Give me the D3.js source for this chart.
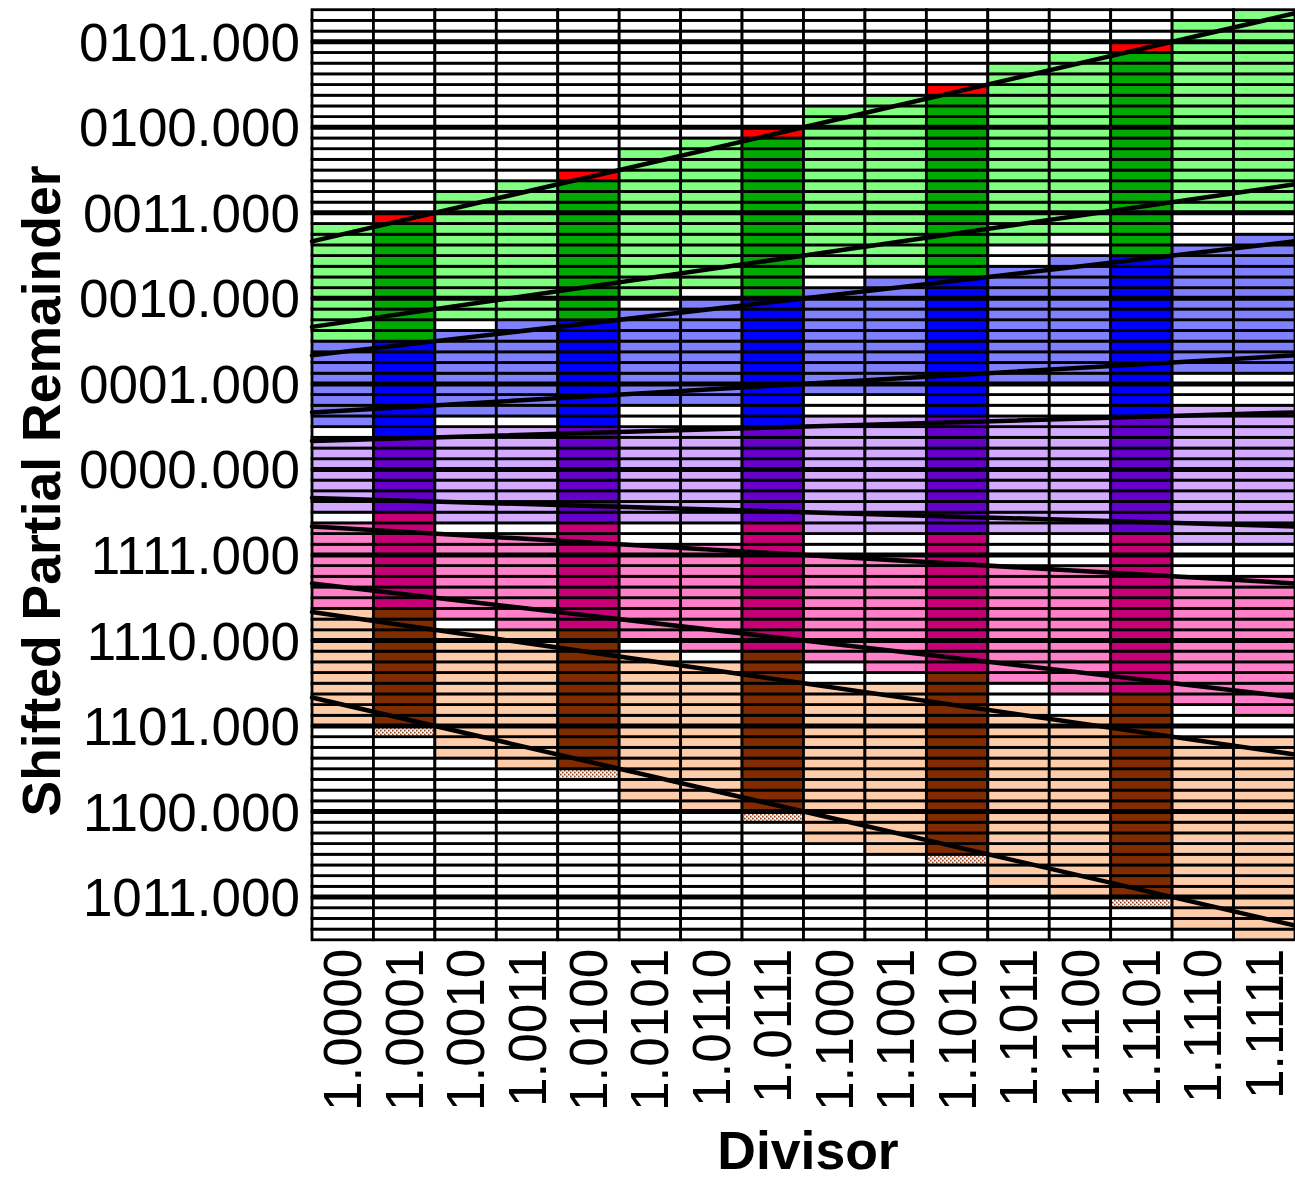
<!DOCTYPE html>
<html>
<head>
<meta charset="utf-8">
<script src="https://cdn.jsdelivr.net/npm/d3@7"></script>
<style>
  body { margin: 0; background: #fff; }
  svg { display: block; font-family: "Liberation Sans", Arial, Helvetica, sans-serif; }
</style>
</head>
<body>
<div class="canvas"></div>
<script>
// divisor columns (4 fraction bits)
const divisors = ['1.0000', '1.0001', '1.0010', '1.0011', '1.0100', '1.0101', '1.0110', '1.0111',
                  '1.1000', '1.1001', '1.1010', '1.1011', '1.1100', '1.1101', '1.1110', '1.1111'];
// columns shown in the dark shades
const darkColumns = ['1.0001', '1.0100', '1.0111', '1.1010', '1.1101'];

// for every column: lower edge of the highest and of the lowest cell of each quotient digit
const q2Top     = [2.75, 2.875, 3.125, 3.25, 3.375, 3.625, 3.75, 3.875, 4.125, 4.25, 4.375, 4.625, 4.75, 4.875, 5.125, 5.25];
const q2Bottom  = [1.5, 1.5, 1.75, 1.75, 1.75, 2.0, 2.125, 2.0, 2.375, 2.375, 2.25, 2.625, 2.75, 2.5, 3.0, 3.0];
const q1Top     = [1.375, 1.375, 1.5, 1.625, 1.625, 1.75, 1.875, 1.875, 2.0, 2.125, 2.125, 2.25, 2.375, 2.375, 2.5, 2.625];
const q1Bottom  = [0.5, 0.375, 0.625, 0.625, 0.5, 0.75, 0.75, 0.5, 0.875, 0.875, 0.625, 1.0, 1.0, 0.625, 1.125, 1.125];
const q0Top     = [0.25, 0.25, 0.375, 0.375, 0.375, 0.375, 0.375, 0.375, 0.5, 0.5, 0.5, 0.5, 0.5, 0.5, 0.625, 0.625];
const q0Bottom  = [-0.5, -0.5, -0.625, -0.625, -0.625, -0.625, -0.625, -0.625, -0.75, -0.75, -0.75, -0.75, -0.75, -0.75, -0.875, -0.875];
const qm1Top    = [-0.75, -0.625, -0.875, -0.875, -0.75, -1.0, -1.0, -0.75, -1.125, -1.125, -0.875, -1.25, -1.25, -0.875, -1.375, -1.375];
const qm1Bottom = [-1.625, -1.625, -1.75, -1.875, -1.875, -2.0, -2.125, -2.125, -2.25, -2.375, -2.375, -2.5, -2.625, -2.625, -2.75, -2.875];
const qm2Top    = [-1.75, -1.75, -2.0, -2.0, -2.0, -2.25, -2.375, -2.25, -2.625, -2.625, -2.5, -2.875, -3.0, -2.75, -3.25, -3.25];
const qm2Bottom = [-3.0, -3.125, -3.375, -3.5, -3.625, -3.875, -4.0, -4.125, -4.375, -4.5, -4.625, -4.875, -5.0, -5.125, -5.375, -5.5];

// partial remainder axis
const yTickValues = [-5, -4, -3, -2, -1, 0, 1, 2, 3, 4, 5];
const yTickLabels = ['1011.000', '1100.000', '1101.000', '1110.000', '1111.000', '0000.000',
                     '0001.000', '0010.000', '0011.000', '0100.000', '0101.000'];
const remainderRange = [-5.5, 5.375];
const rowStep = 0.125;

// boundary lines  p = k * d
const boundarySlopes = [8 / 3, 5 / 3, 4 / 3, 2 / 3, 1 / 3, -1 / 3, -2 / 3, -4 / 3, -5 / 3, -8 / 3];

const regions = [
    { top: q2Top, bottom: q2Bottom, light: '#80ff80', dark: '#00aa00' },
    { top: q1Top, bottom: q1Bottom, light: '#8080ff', dark: '#0000ff' },
    { top: q0Top, bottom: q0Bottom, light: '#d4aaff', dark: '#6600cc' },
    { top: qm1Top, bottom: qm1Bottom, light: '#ff80c8', dark: '#c80078' },
    { top: qm2Top, bottom: qm2Bottom, light: '#ffccaa', dark: '#802b00' }
];

const width = 1295, height = 1179;
const margin = { top: 9.7, left: 312, right: 0, bottom: 239.2 };
const graphWidth = width - margin.left - margin.right;
const graphHeight = height - margin.top - margin.bottom;
const fontSize = 53;

const svg = d3.select('.canvas')
    .append('svg')
    .attr('width', width)
    .attr('height', height);

const defs = svg.append('defs');
const dots = defs.append('pattern')
    .attr('id', 'dots')
    .attr('width', 4)
    .attr('height', 4)
    .attr('patternUnits', 'userSpaceOnUse');
dots.append('rect').attr('width', 4).attr('height', 4).attr('fill', '#ffffff');
dots.append('rect').attr('x', 0).attr('y', 0).attr('width', 1.6).attr('height', 1.6).attr('fill', '#802b00');
dots.append('rect').attr('x', 2).attr('y', 2).attr('width', 1.6).attr('height', 1.6).attr('fill', '#802b00');

const graph = svg.append('g')
    .attr('transform', `translate(${margin.left}, ${margin.top})`);

const x = d3.scaleBand()
    .domain(divisors)
    .range([0, graphWidth]);

const xd = d3.scaleLinear()
    .domain([1, 2])
    .range([0, graphWidth]);

const y = d3.scaleLinear()
    .domain(remainderRange)
    .range([graphHeight, 0]);

// one cell per divisor column and remainder row
const rows = d3.range(remainderRange[0], remainderRange[1], rowStep);
const cells = [];
divisors.forEach((div, i) => {
    const dark = darkColumns.includes(div);
    rows.forEach(p => {
        let fill = '#ffffff';
        regions.forEach((r, k) => {
            if (p <= r.top[i] && p >= r.bottom[i]) {
                fill = dark ? r.dark : r.light;
                if (dark && k === 0 && p === r.top[i]) fill = '#ff0000';
                if (dark && k === 4 && p === r.bottom[i]) fill = 'url(#dots)';
            }
        });
        cells.push({ div, p, fill });
    });
});

graph.selectAll('rect.cell')
    .data(cells)
    .enter()
    .append('rect')
    .attr('class', 'cell')
    .attr('x', d => x(d.div))
    .attr('y', d => y(d.p + rowStep))
    .attr('width', x.bandwidth())
    .attr('height', d => y(d.p) - y(d.p + rowStep))
    .attr('fill', d => d.fill)
    .attr('stroke', '#000')
    .attr('stroke-width', 2.8);

// heavier rules at whole numbers
graph.selectAll('line.unit')
    .data(yTickValues)
    .enter()
    .append('line')
    .attr('class', 'unit')
    .attr('x1', 0)
    .attr('x2', graphWidth)
    .attr('y1', d => y(d))
    .attr('y2', d => y(d))
    .attr('stroke', '#000')
    .attr('stroke-width', 5);

// selection interval boundaries
graph.selectAll('line.bound')
    .data(boundarySlopes)
    .enter()
    .append('line')
    .attr('class', 'bound')
    .attr('x1', xd(1))
    .attr('y1', k => y(k * 1))
    .attr('x2', xd(2))
    .attr('y2', k => y(k * 2))
    .attr('stroke', '#000')
    .attr('stroke-width', 4.5)
    .attr('stroke-linecap', 'round');

// axes
const yAxisGroup = graph.append('g');
yAxisGroup.call(d3.axisLeft(y)
    .tickValues(yTickValues)
    .tickFormat((d, i) => yTickLabels[i])
    .tickSize(0)
    .tickPadding(12));
yAxisGroup.select('.domain').remove();
yAxisGroup.selectAll('text')
    .attr('font-size', fontSize)
    .attr('font-family', '"Liberation Sans", Arial, sans-serif')
    .attr('fill', '#000')
    .attr('dy', '0.35em');

const xAxisGroup = graph.append('g')
    .attr('transform', `translate(0, ${graphHeight})`);
xAxisGroup.call(d3.axisBottom(x).tickSize(0));
xAxisGroup.select('.domain').remove();
xAxisGroup.selectAll('text')
    .attr('font-size', fontSize)
    .attr('font-family', '"Liberation Sans", Arial, sans-serif')
    .attr('fill', '#000')
    .attr('transform', 'rotate(-90)')
    .attr('text-anchor', 'end')
    .attr('x', -9)
    .attr('y', 0)
    .attr('dy', '0.35em');

// axis titles
svg.append('text')
    .attr('x', 808)
    .attr('y', 1169)
    .attr('text-anchor', 'middle')
    .attr('font-size', 53.5)
    .attr('font-weight', 'bold')
    .text('Divisor');

svg.append('text')
    .attr('transform', 'translate(60, 491) rotate(-90)')
    .attr('text-anchor', 'middle')
    .attr('font-size', 53.5)
    .attr('font-weight', 'bold')
    .text('Shifted Partial Remainder');
</script>
</body>
</html>
